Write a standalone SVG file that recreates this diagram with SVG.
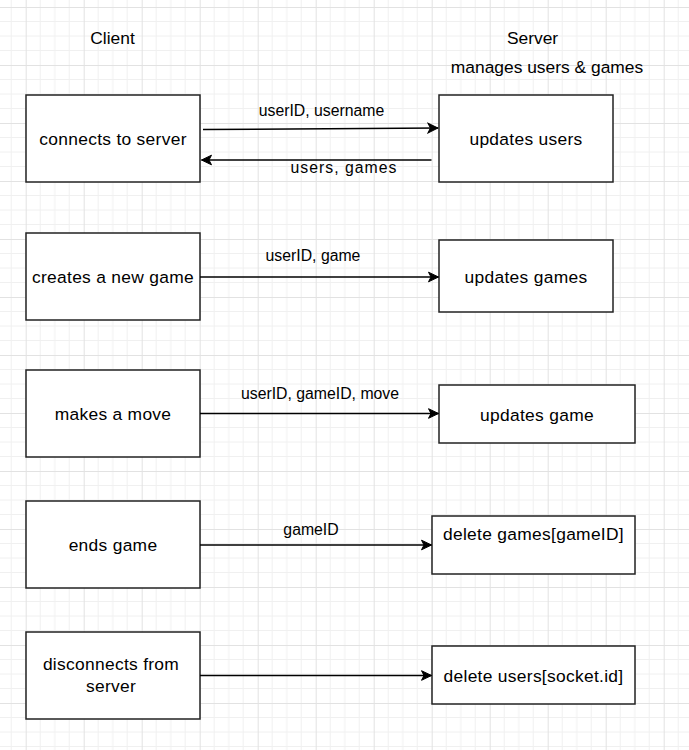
<svg xmlns="http://www.w3.org/2000/svg" width="689" height="750" viewBox="0 0 689 750">
  <defs>
    <pattern id="grid" patternUnits="userSpaceOnUse" x="25.7" y="7" width="58" height="58">
      <path d="M14.5 0V58M29 0V58M43.5 0V58M0 14.5H58M0 29H58M0 43.5H58" stroke="#f0f0f0" stroke-width="1" fill="none"/>
      <path d="M0.5 0V58M0 0.5H58" stroke="#e2e2e2" stroke-width="1" fill="none"/>
    </pattern>
    <marker id="arrow" markerUnits="userSpaceOnUse" markerWidth="12" markerHeight="12" viewBox="0 0 12 12" refX="11" refY="6" orient="auto">
      <path d="M1 1.2L11 6L1 10.8L3.5 6Z" fill="#000" stroke="#000" stroke-width="1"/>
    </marker>
    <style>
      .box { fill: #fff; stroke: #222; stroke-width: 1.5; }
      .t { font-family: "Liberation Sans", Arial, sans-serif; font-size: 17.4px; fill: #000; text-anchor: middle; }
      .bt { letter-spacing: 0.3px; }
      .lbl { font-family: "Liberation Sans", Arial, sans-serif; font-size: 15.8px; fill: #000; text-anchor: middle; }
      .edge { stroke: #000; stroke-width: 1.5; fill: none; marker-end: url(#arrow); }
    </style>
  </defs>
  <rect width="689" height="750" fill="#fff"/>
  <rect width="689" height="750" fill="url(#grid)"/>

  <text class="t" x="112.5" y="44">Client</text>
  <text class="t" x="532.5" y="44">Server</text>
  <text class="t" x="547" y="73.3">manages users &amp; games</text>

  <g id="connects">
    <rect class="box" x="26" y="95" width="174" height="87"/>
    <text class="t bt" x="113" y="144.5">connects to server</text>
  </g>
  <g id="updates-users">
    <rect class="box" x="439" y="95" width="174" height="87"/>
    <text class="t bt" x="526" y="145">updates users</text>
  </g>
  <g id="creates">
    <rect class="box" x="26" y="233" width="174" height="87"/>
    <text class="t bt" x="113" y="282.5">creates a new game</text>
  </g>
  <g id="updates-games">
    <rect class="box" x="439" y="240" width="174" height="72"/>
    <text class="t bt" x="526" y="283">updates games</text>
  </g>
  <g id="makes-move">
    <rect class="box" x="26" y="370" width="174" height="87"/>
    <text class="t bt" x="113" y="420">makes a move</text>
  </g>
  <g id="updates-game">
    <rect class="box" x="439" y="385" width="196" height="58"/>
    <text class="t bt" x="537" y="420.5">updates game</text>
  </g>
  <g id="ends-game">
    <rect class="box" x="26" y="501" width="174" height="87"/>
    <text class="t bt" x="113" y="551">ends game</text>
  </g>
  <g id="delete-games">
    <rect class="box" x="432" y="516" width="203" height="58"/>
    <text class="t bt" x="533.5" y="540">delete games[gameID]</text>
  </g>
  <g id="disconnects">
    <rect class="box" x="26" y="632" width="174" height="87"/>
    <text class="t bt" x="111" y="670">disconnects from</text>
    <text class="t bt" x="111" y="692">server</text>
  </g>
  <g id="delete-users">
    <rect class="box" x="432" y="646" width="203" height="58"/>
    <text class="t bt" x="533.5" y="682">delete users[socket.id]</text>
  </g>

  <g id="connectors">
    <path class="edge" d="M203 129.5L438 128"/>
    <text class="lbl" x="321.5" y="116">userID, username</text>
    <path class="edge" d="M431.5 160H201.5"/>
    <text class="lbl" x="344" y="173" letter-spacing="1">users, games</text>
    <path class="edge" d="M200 277H438.5"/>
    <text class="lbl" x="313" y="261">userID, game</text>
    <path class="edge" d="M200 413.5H438.5"/>
    <text class="lbl" x="320" y="399">userID, gameID, move</text>
    <path class="edge" d="M200 545H431.5"/>
    <text class="lbl" x="311" y="535">gameID</text>
    <path class="edge" d="M200 675.5H431.5"/>
  </g>
</svg>
